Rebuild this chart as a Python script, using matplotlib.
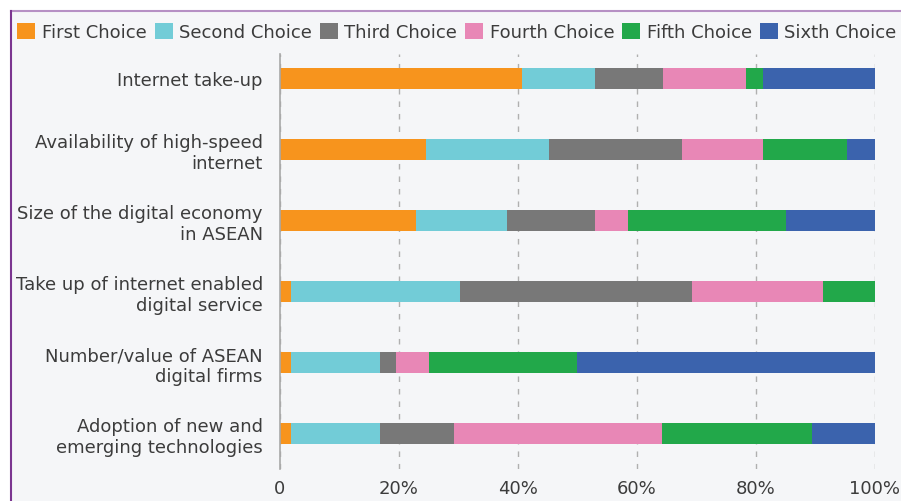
import matplotlib.pyplot as plt
import numpy as np
from matplotlib.patches import Rectangle
from matplotlib.lines import Line2D

categories = ["Internet take-up",
              "Availability of high-speed\ninternet",
              "Size of the digital economy\nin ASEAN",
              "Take up of internet enabled\ndigital service",
              "Number/value of ASEAN\ndigital firms",
              "Adoption of new and\nemerging technologies"]

series_names = ["First Choice", "Second Choice", "Third Choice",
                "Fourth Choice", "Fifth Choice", "Sixth Choice"]

# share of respondents (%) per row
first = [40.7, 24.6, 23.0, 1.9, 1.9, 1.9]
second = [12.3, 20.7, 15.2, 28.4, 15.0, 15.0]
third = [11.4, 22.3, 14.8, 39.0, 2.7, 12.4]
fourth = [14.0, 13.6, 5.5, 21.9, 5.5, 34.9]
fifth = [2.8, 14.1, 26.6, 8.8, 24.8, 25.2]
sixth = [18.8, 4.7, 14.9, 0.0, 50.1, 10.6]

colors = ["#f7941d", "#72ccd7", "#787878", "#e887b6", "#22a84a", "#3b63ad"]
text_color = "#3c3c3c"
bg = "#f5f6f8"

W, H = 901, 502
fig = plt.figure(figsize=(W/100, H/100), dpi=100, facecolor="white")

# panel background and purple frame
fig.add_artist(Rectangle((10.5/W, 0), 1, 1 - 12/H, transform=fig.transFigure,
                         facecolor=bg, edgecolor="none", zorder=-1))
fig.add_artist(Line2D([10.5/W, 1], [1 - 12/H, 1 - 12/H], transform=fig.transFigure,
                      color="#b690c4", lw=1.5))
fig.add_artist(Line2D([10.5/W, 10.5/W], [0, 1 - 12/H], transform=fig.transFigure,
                      color="#7b3590", lw=1.5))

ax = fig.add_axes([279.5/W, 1 - 470/H, (875 - 279.5)/W, (470 - 55)/H])
ax.set_facecolor("none")

data = [first, second, third, fourth, fifth, sixth]
y = np.arange(len(categories))
left = np.zeros(len(categories))
for name, vals, c in zip(series_names, data, colors):
    ax.barh(y, vals, left=left, height=0.3, color=c, label=name, zorder=3)
    left = left + np.array(vals)

ax.set_xlim(0, 100)
ax.set_ylim(5.5, -0.345)
ax.set_yticks(y)
ax.set_yticklabels(categories, fontsize=13, color=text_color, linespacing=1.2)
ax.set_xticks([0, 20, 40, 60, 80, 100])
ax.set_xticklabels(["0", "20%", "40%", "60%", "80%", "100%"], fontsize=13, color=text_color)
ax.tick_params(axis="both", length=0)
ax.tick_params(axis="y", pad=12)
ax.tick_params(axis="x", pad=7)

ax.grid(axis="x", color="#b0b0b0", linestyle=(0, (4, 5)), linewidth=1, zorder=0)
for s in ["top", "right", "bottom"]:
    ax.spines[s].set_visible(False)
ax.spines["left"].set_color("#a8a8a8")
ax.spines["left"].set_linewidth(1.2)
ax.spines["left"].set_zorder(4)

leg = fig.legend(loc="center", bbox_to_anchor=(457/W, 1 - 33/H), ncol=6, frameon=False,
                 fontsize=13, handlelength=1.0, handleheight=1.0, handletextpad=0.35,
                 columnspacing=0.45, borderaxespad=0)
for t in leg.get_texts():
    t.set_color(text_color)

fig.savefig("out.png", dpi=100, facecolor="white")
